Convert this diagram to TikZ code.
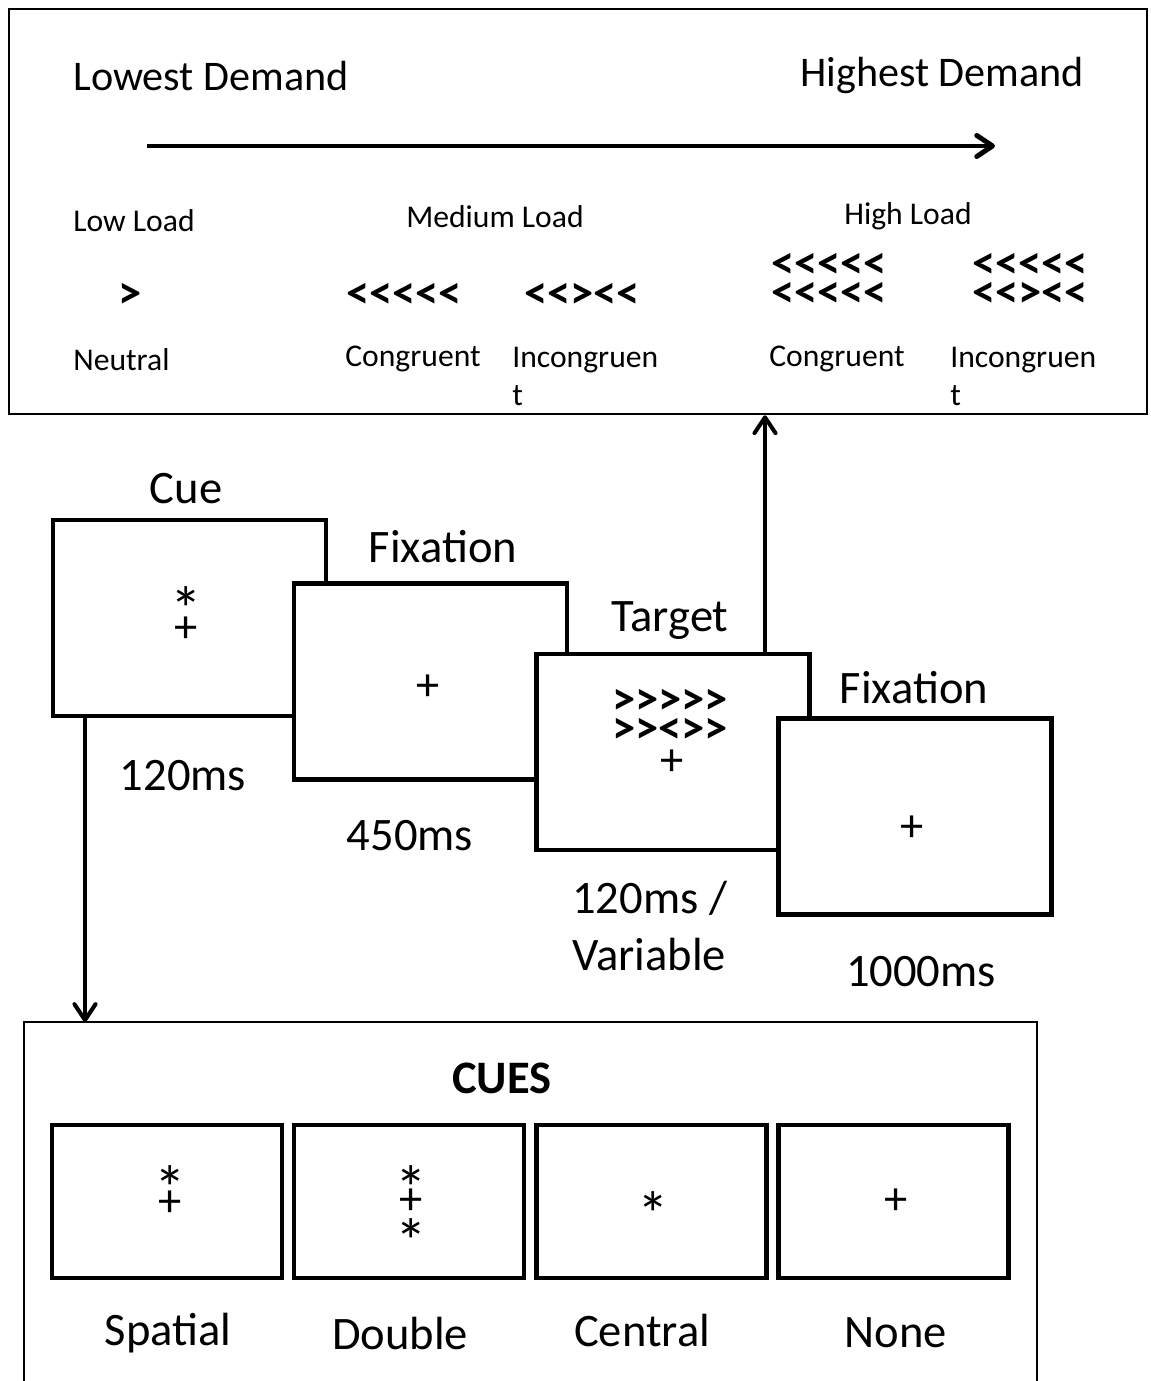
\documentclass[tikz,border=0pt]{standalone}
\usepackage{fontspec}
\setmainfont{Carlito}[Ligatures=TeXOff]
\usetikzlibrary{arrows.meta}
\tikzset{
  screenbox/.style={draw,line width=2.6pt,fill=white,minimum width=5.46cm,minimum height=3.92cm,inner sep=0pt},
  cuepanel/.style={draw,line width=2.6pt,minimum width=4.6cm,minimum height=3.06cm,inner sep=0pt},
  outerbox/.style={draw,line width=1.5pt,inner sep=0pt},
  bigtxt/.style={font=\fontsize{26.5}{33}\selectfont,inner sep=0pt,align=left},
  smalltxt/.style={font=\fontsize{18}{22}\selectfont,inner sep=0pt,align=left},
  headtxt/.style={font=\fontsize{24}{28}\selectfont,inner sep=0pt},
  flanktxt/.style={font=\bfseries\fontsize{26.5}{16.5}\selectfont,align=center,inner sep=0pt},
  plussym/.style={font=\fontsize{26.5}{30}\selectfont,inner sep=0pt},
  starsym/.style={font=\fontsize{36}{36}\selectfont,inner sep=0pt,anchor=base},
}
\begin{document}
\begin{tikzpicture}[x=0.02cm,y=-0.02cm,>={Straight Barb[round,length=9pt,width=12pt]}]
\useasboundingbox (0,0) rectangle (1150,1381);

% demand scale
\node[outerbox,minimum width=22.76cm,minimum height=8.1cm] (demand) at (578,211.5) {};
\node[headtxt,anchor=west] (lowest) at (73,76) {Lowest Demand};
\node[headtxt,anchor=west] (highest) at (800,75) {Highest Demand};
\coordinate (lowend) at (147,146);
\coordinate (highend) at (995,146);
\draw[->,line width=2.8pt] (lowend) -- (highend);

\node[smalltxt,anchor=west] (lowload) at (73,221) {Low Load};
\node[smalltxt] (medload) at (495,217) {Medium Load};
\node[smalltxt] (highload) at (908,216) {High Load};
\node[flanktxt] (neutralarr) at (130,296) {>};
\node[flanktxt] (medcongarr) at (404,296) {<<<<<};
\node[flanktxt] (medincarr) at (582,296) {<<><<};
\node[flanktxt] (highcongarr) at (829,280) {<<<<<\\<<<<<};
\node[flanktxt] (highincarr) at (1030,280) {<<<<<\\<<><<};
\node[smalltxt,anchor=west] (neutral) at (73,360) {Neutral};
\node[smalltxt,anchor=west] (medcong) at (345,359) {Congruent};
\node[smalltxt,anchor=base west] (medinc) at (512,406) {Incongruen\\t};
\node[smalltxt,anchor=west] (highcong) at (769,359) {Congruent};
\node[smalltxt,anchor=base west] (highinc) at (950,406) {Incongruen\\t};

% trial sequence
\node[screenbox] (cue) at (189.5,618) {};
\node[screenbox] (fixa) at (430.5,681.5) {};
\node[screenbox] (target) at (673,752) {};
\node[screenbox] (fixb) at (915,816.5) {};

\node[bigtxt] (cuelbl) at (186,489) {Cue};
\node[bigtxt] (fixalbl) at (443,547) {Fixation};
\node[bigtxt] (targetlbl) at (670,621) {Target};
\node[bigtxt] (fixblbl) at (914,688) {Fixation};

\node[starsym] (cuestar) at (186,631) {*};
\node[plussym] (cueplus) at (186,630) {+};
\node[plussym] (fixaplus) at (428,688) {+};
\node[flanktxt] (targetarr) at (670,716) {>>>>>\\>><>>};
\node[plussym] (targetplus) at (672,763) {+};
\node[plussym] (fixbplus) at (912,829) {+};

\node[bigtxt] (cuetime) at (183,776) {120ms};
\node[bigtxt] (fixatime) at (410,836) {450ms};
\node[bigtxt,anchor=west] (targettime) at (572,926) {120ms /\\Variable};
\node[bigtxt] (fixbtime) at (921,972) {1000ms};

\coordinate (up) at (765,0);
\draw[->,line width=2.3pt] (target.north -| up) -- (demand.south -| up);

% cue types
\coordinate (cuestop) at (85,1022);
\draw[outerbox] (24,1400) |- (1037,1022) -- (1037,1400);
\draw[->,line width=2.3pt] (cue.south -| cuestop) -- (cuestop);
\node[bigtxt,font=\bfseries\fontsize{26.5}{33}\selectfont] (cueshead) at (502,1078) {CUES};

\node[cuepanel] (spatial) at (167,1201.5) {};
\node[cuepanel] (double) at (409,1201.5) {};
\node[cuepanel] (central) at (651.5,1201.5) {};
\node[cuepanel] (none) at (893.5,1201.5) {};
\node[starsym] (spatialstar) at (170,1210) {*};
\node[plussym] (spatialplus) at (170,1204) {+};
\node[starsym] (doublestar) at (411,1210) {*};
\node[plussym] (doubleplus) at (411,1202) {+};
\node[starsym] (doublestarb) at (411,1263) {*};
\node[starsym] (centralstar) at (653,1236) {*};
\node[plussym] (noneplus) at (896,1202) {+};
\node[bigtxt] (spatiallbl) at (168,1333) {Spatial};
\node[bigtxt] (doublelbl) at (400,1333) {Double};
\node[bigtxt] (centrallbl) at (642,1330) {Central};
\node[bigtxt] (nonelbl) at (896,1333) {None};
\end{tikzpicture}
\end{document}
